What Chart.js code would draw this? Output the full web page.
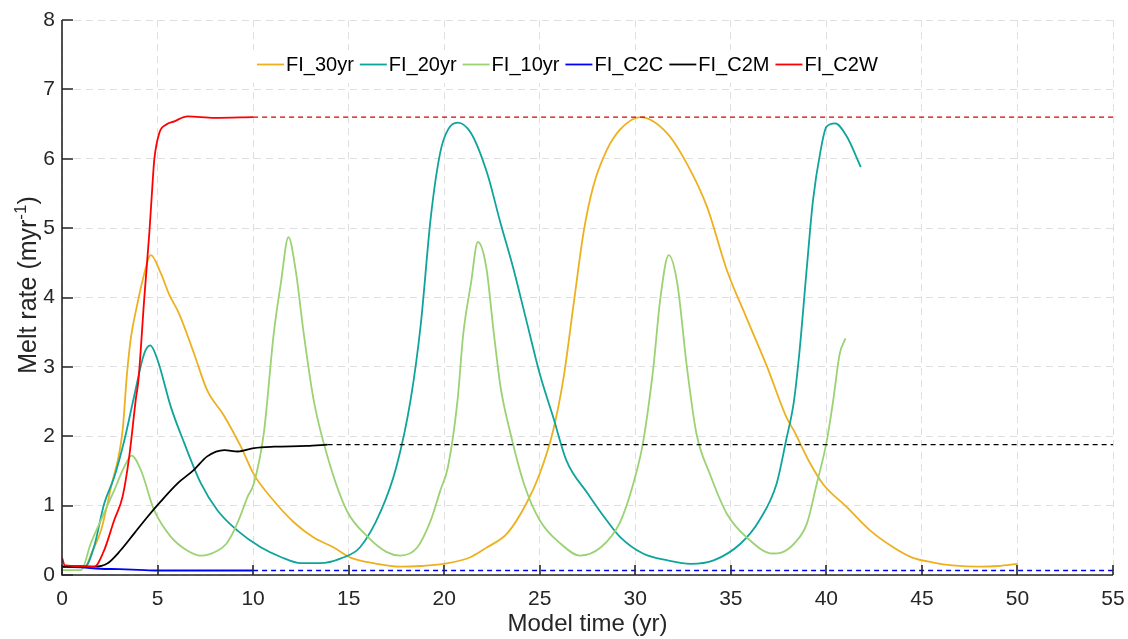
<!DOCTYPE html>
<html>
<head>
<meta charset="utf-8">
<title>Melt rate</title>
<script src="https://cdn.jsdelivr.net/npm/chart.js@4.4.1/dist/chart.umd.min.js"></script>
<style>
  body { margin: 0; background: #fff; }
  canvas { display: block; }
</style>
</head>
<body>
<canvas id="meltChart" width="1128" height="639"></canvas>
<script>
// values (x = model time in yr, y = melt rate)
const fi30yrX = [0, 1.2, 1.6, 2.04, 2.56, 3.17, 3.4, 3.61, 3.9, 4.22, 4.65, 5.17, 5.6, 6.12, 6.9, 7.6, 8.47, 9.36, 10.04, 11.08, 12.13, 13.17, 14.2, 15.1, 16.3, 17.7, 18.8, 20.2, 21.4, 22.25, 23.3, 24.3, 25.0, 25.7, 26.25, 26.8, 27.3, 27.8, 28.5, 29.2, 30.27, 31.66, 32.7, 33.75, 34.8, 35.8, 36.9, 37.9, 38.3, 39.15, 39.8, 41.1, 42.3, 43.5, 44.5, 45.6, 46.6, 48.0, 49.0, 50.0];
const fi30yrY = [0.12, 0.12, 0.35, 0.64, 1.26, 2.08, 2.9, 3.43, 3.85, 4.25, 4.61, 4.35, 4.05, 3.77, 3.2, 2.66, 2.3, 1.85, 1.45, 1.07, 0.76, 0.54, 0.40, 0.25, 0.17, 0.12, 0.13, 0.17, 0.26, 0.40, 0.6, 1.03, 1.46, 2.08, 2.85, 3.96, 4.95, 5.6, 6.12, 6.42, 6.6, 6.37, 5.93, 5.31, 4.39, 3.72, 3.0, 2.28, 2.08, 1.61, 1.32, 0.97, 0.64, 0.40, 0.25, 0.18, 0.14, 0.12, 0.13, 0.16];

const fi20yrX = [0, 1.2, 1.67, 2.21, 2.73, 3.26, 3.77, 4.3, 4.62, 5.0, 5.7, 6.4, 7.27, 8.14, 9.18, 10.4, 11.45, 12.5, 13.5, 14.6, 15.6, 16.7, 17.5, 18.24, 18.77, 19.3, 19.8, 20.2, 20.7, 21.4, 22.25, 22.95, 23.6, 24.3, 25.0, 25.7, 26.4, 27.5, 28.5, 29.2, 30.4, 31.7, 32.9, 34.1, 35.5, 36.5, 37.4, 37.9, 38.3, 38.6, 38.98, 39.3, 39.7, 40.0, 40.46, 41.07, 41.8];
const fi20yrY = [0.12, 0.12, 0.4, 1.03, 1.41, 1.94, 2.57, 3.19, 3.31, 3.1, 2.42, 1.9, 1.32, 0.93, 0.64, 0.40, 0.26, 0.17, 0.17, 0.24, 0.40, 0.93, 1.56, 2.52, 3.6, 5.16, 6.1, 6.42, 6.52, 6.37, 5.79, 5.07, 4.44, 3.67, 2.9, 2.28, 1.65, 1.18, 0.79, 0.55, 0.31, 0.21, 0.16, 0.21, 0.45, 0.79, 1.32, 1.95, 2.5, 3.24, 4.44, 5.4, 6.12, 6.46, 6.51, 6.32, 5.88];

const fi10yrX = [0, 1.0, 1.5, 2.04, 2.73, 3.26, 3.64, 4.13, 4.83, 5.7, 6.57, 7.27, 8.14, 8.6, 9.0, 9.36, 9.7, 10.04, 10.56, 11.08, 11.45, 11.85, 12.23, 12.65, 13.17, 13.9, 14.9, 16.0, 17.0, 17.7, 18.6, 19.3, 19.8, 20.2, 20.7, 21.0, 21.4, 21.76, 22.2, 22.6, 22.95, 23.47, 24.17, 25.0, 26.1, 27.1, 28.2, 29.2, 29.9, 30.4, 30.95, 31.3, 31.75, 32.2, 32.7, 33.2, 33.9, 34.8, 35.8, 37.2, 37.6, 38.3, 38.98, 39.5, 40.0, 40.36, 40.7, 41.0];
const fi10yrY = [0.07, 0.07, 0.45, 0.79, 1.22, 1.56, 1.72, 1.51, 0.93, 0.55, 0.35, 0.28, 0.35, 0.45, 0.64, 0.87, 1.12, 1.32, 2.04, 3.48, 4.2, 4.87, 4.39, 3.48, 2.52, 1.7, 0.93, 0.55, 0.33, 0.28, 0.40, 0.79, 1.22, 1.56, 2.52, 3.48, 4.2, 4.8, 4.44, 3.48, 2.71, 2.04, 1.32, 0.79, 0.45, 0.28, 0.40, 0.76, 1.32, 1.9, 3.0, 3.96, 4.61, 4.2, 3.0, 2.04, 1.46, 0.88, 0.55, 0.31, 0.32, 0.45, 0.74, 1.32, 1.9, 2.52, 3.19, 3.41];

const c2cX = [0, 1, 2, 3, 4, 5, 7, 10];
const c2cY = [0.12, 0.11, 0.09, 0.085, 0.075, 0.065, 0.065, 0.065];
const c2cTailX = [10, 55];
const c2cTailY = [0.065, 0.065];

const c2mX = [0, 1.69, 2.39, 3.08, 3.78, 4.48, 5.17, 6.05, 6.92, 7.6, 8.5, 9.2, 10.05, 11.1, 12.8, 13.9];
const c2mY = [0.12, 0.12, 0.17, 0.36, 0.6, 0.84, 1.06, 1.32, 1.52, 1.71, 1.8, 1.78, 1.83, 1.85, 1.86, 1.88];
const c2mTailX = [13.9, 55];
const c2mTailY = [1.88, 1.88];

const c2wX = [0, 0.15, 1.0, 1.69, 2.21, 2.73, 3.17, 3.52, 3.87, 4.0, 4.3, 4.57, 4.74, 4.83, 5.09, 5.44, 5.88, 6.57, 7.97, 10];
const c2wY = [0.25, 0.14, 0.13, 0.12, 0.36, 0.79, 1.13, 1.71, 2.55, 2.81, 3.97, 4.93, 5.65, 5.99, 6.37, 6.49, 6.54, 6.61, 6.59, 6.6];
const c2wTailX = [10, 55];
const c2wTailY = [6.6, 6.6];

const seriesNames = ['FI_30yr', 'FI_20yr', 'FI_10yr', 'FI_C2C', 'FI_C2M', 'FI_C2W'];
const seriesColors = ['#EDB120', '#0FA49B', '#9BD274', '#0000FF', '#000000', '#FF0000'];

const xTicks = [0, 5, 10, 15, 20, 25, 30, 35, 40, 45, 50, 55];
const yTicks = [0, 1, 2, 3, 4, 5, 6, 7, 8];

const FONT = '"Liberation Sans", Arial, Helvetica, sans-serif';
const AXIS_COLOR = '#262626';

function toPoints(xs, ys) {
    return xs.map((x, i) => ({ x: x, y: ys[i] }));
}

function line(label, xs, ys, color, dashed) {
    return {
        label: label,
        data: toPoints(xs, ys),
        borderColor: color,
        backgroundColor: color,
        borderWidth: dashed ? 1.4 : 1.8,
        borderDash: dashed ? [5, 4] : [],
        pointRadius: 0,
        fill: false,
        cubicInterpolationMode: dashed ? 'default' : 'monotone',
    };
}

// first dataset is drawn last, so the red one goes first to stay on top
const datasets = [
    line('FI_C2W', c2wX, c2wY, seriesColors[5], false),
    line('FI_C2W tail', c2wTailX, c2wTailY, '#D40000', true),
    line('FI_C2M', c2mX, c2mY, seriesColors[4], false),
    line('FI_C2M tail', c2mTailX, c2mTailY, seriesColors[4], true),
    line('FI_C2C', c2cX, c2cY, seriesColors[3], false),
    line('FI_C2C tail', c2cTailX, c2cTailY, seriesColors[3], true),
    line('FI_10yr', fi10yrX, fi10yrY, seriesColors[2], false),
    line('FI_20yr', fi20yrX, fi20yrY, seriesColors[1], false),
    line('FI_30yr', fi30yrX, fi30yrY, seriesColors[0], false),
];

// legend sits inside the axes, no border
const insideLegend = {
    id: 'insideLegend',
    beforeDatasetsDraw(chart) {
        const ctx = chart.ctx;
        ctx.save();
        ctx.font = '20px ' + FONT;
        const lineLen = 27, gapText = 2, gapItem = 6;
        const widths = seriesNames.map(n => ctx.measureText(n).width);
        const total = widths.reduce((a, b) => a + b, 0) + seriesNames.length * (lineLen + gapText) + (seriesNames.length - 1) * gapItem;
        let x = 257;
        const y = 64.5;
        ctx.fillStyle = '#fff';
        ctx.fillRect(x - 6, 50, total + 12, 33);
        ctx.textBaseline = 'middle';
        ctx.textAlign = 'left';
        seriesNames.forEach((name, i) => {
            ctx.strokeStyle = seriesColors[i];
            ctx.lineWidth = 1.8;
            ctx.beginPath();
            ctx.moveTo(x, y);
            ctx.lineTo(x + lineLen, y);
            ctx.stroke();
            x += lineLen + gapText;
            ctx.fillStyle = '#000';
            ctx.fillText(name, x, y + 1);
            x += widths[i] + gapItem;
        });
        ctx.restore();
    }
};

// MATLAB style axes: left and bottom lines, ticks pointing inwards, y label with superscript
const inwardAxes = {
    id: 'inwardAxes',
    afterDraw(chart) {
        const ctx = chart.ctx;
        const area = chart.chartArea;
        const xs = chart.scales.x, ys = chart.scales.y;
        ctx.save();
        ctx.strokeStyle = AXIS_COLOR;
        ctx.lineWidth = 1.6;
        ctx.beginPath();
        ctx.moveTo(area.left, area.top);
        ctx.lineTo(area.left, area.bottom);
        ctx.lineTo(area.right, area.bottom);
        ctx.stroke();
        ctx.beginPath();
        xTicks.forEach(v => {
            const px = Math.round(xs.getPixelForValue(v));
            ctx.moveTo(px, area.bottom);
            ctx.lineTo(px, area.bottom - 10);
        });
        yTicks.forEach(v => {
            const py = Math.round(ys.getPixelForValue(v));
            ctx.moveTo(area.left, py);
            ctx.lineTo(area.left + 11, py);
        });
        ctx.stroke();

        // y axis title
        const main = 'Melt rate (myr', sup = '-1', close = ')';
        ctx.translate(29, 285);
        ctx.rotate(-Math.PI / 2);
        ctx.fillStyle = AXIS_COLOR;
        ctx.textBaseline = 'middle';
        ctx.textAlign = 'left';
        ctx.font = '25px ' + FONT;
        const w1 = ctx.measureText(main).width, w3 = ctx.measureText(close).width;
        ctx.font = '17px ' + FONT;
        const w2 = ctx.measureText(sup).width;
        let x = -(w1 + w2 + w3) / 2;
        ctx.font = '25px ' + FONT;
        ctx.fillText(main, x, 0);
        x += w1;
        ctx.font = '17px ' + FONT;
        ctx.fillText(sup, x, -8);
        x += w2;
        ctx.font = '25px ' + FONT;
        ctx.fillText(close, x, 0);
        ctx.restore();
    }
};

const ctx = document.getElementById('meltChart').getContext('2d');
new Chart(ctx, {
    type: 'line',
    data: { datasets: datasets },
    plugins: [insideLegend, inwardAxes],
    options: {
        responsive: false,
        animation: false,
        parsing: false,
        layout: { padding: { top: 20, right: 15, left: 0, bottom: 0 } },
        plugins: {
            legend: { display: false },
            tooltip: { enabled: false },
        },
        scales: {
            x: {
                type: 'linear',
                min: 0,
                max: 55,
                afterFit: s => { s.height = 64; s.paddingLeft = 0; s.paddingRight = 0; },
                afterBuildTicks: s => { s.ticks = xTicks.map(v => ({ value: v })); },
                ticks: { color: AXIS_COLOR, font: { family: FONT, size: 21 }, padding: 12, maxRotation: 0 },
                grid: { color: 'rgba(38,38,38,0.15)', lineWidth: 1, drawTicks: false },
                border: { display: false, dash: [7, 5] },
                title: {
                    display: true,
                    text: 'Model time (yr)',
                    color: AXIS_COLOR,
                    font: { family: FONT, size: 24 },
                    padding: { top: 0, bottom: 0 },
                },
            },
            y: {
                type: 'linear',
                min: 0,
                max: 8,
                afterFit: s => { s.width = 62; s.paddingTop = 0; s.paddingBottom = 0; },
                afterBuildTicks: s => { s.ticks = yTicks.map(v => ({ value: v })); },
                ticks: { color: AXIS_COLOR, font: { family: FONT, size: 21 }, padding: 7 },
                grid: { color: 'rgba(38,38,38,0.15)', lineWidth: 1, drawTicks: false },
                border: { display: false, dash: [7, 5] },
            },
        },
    },
});
</script>
</body>
</html>
